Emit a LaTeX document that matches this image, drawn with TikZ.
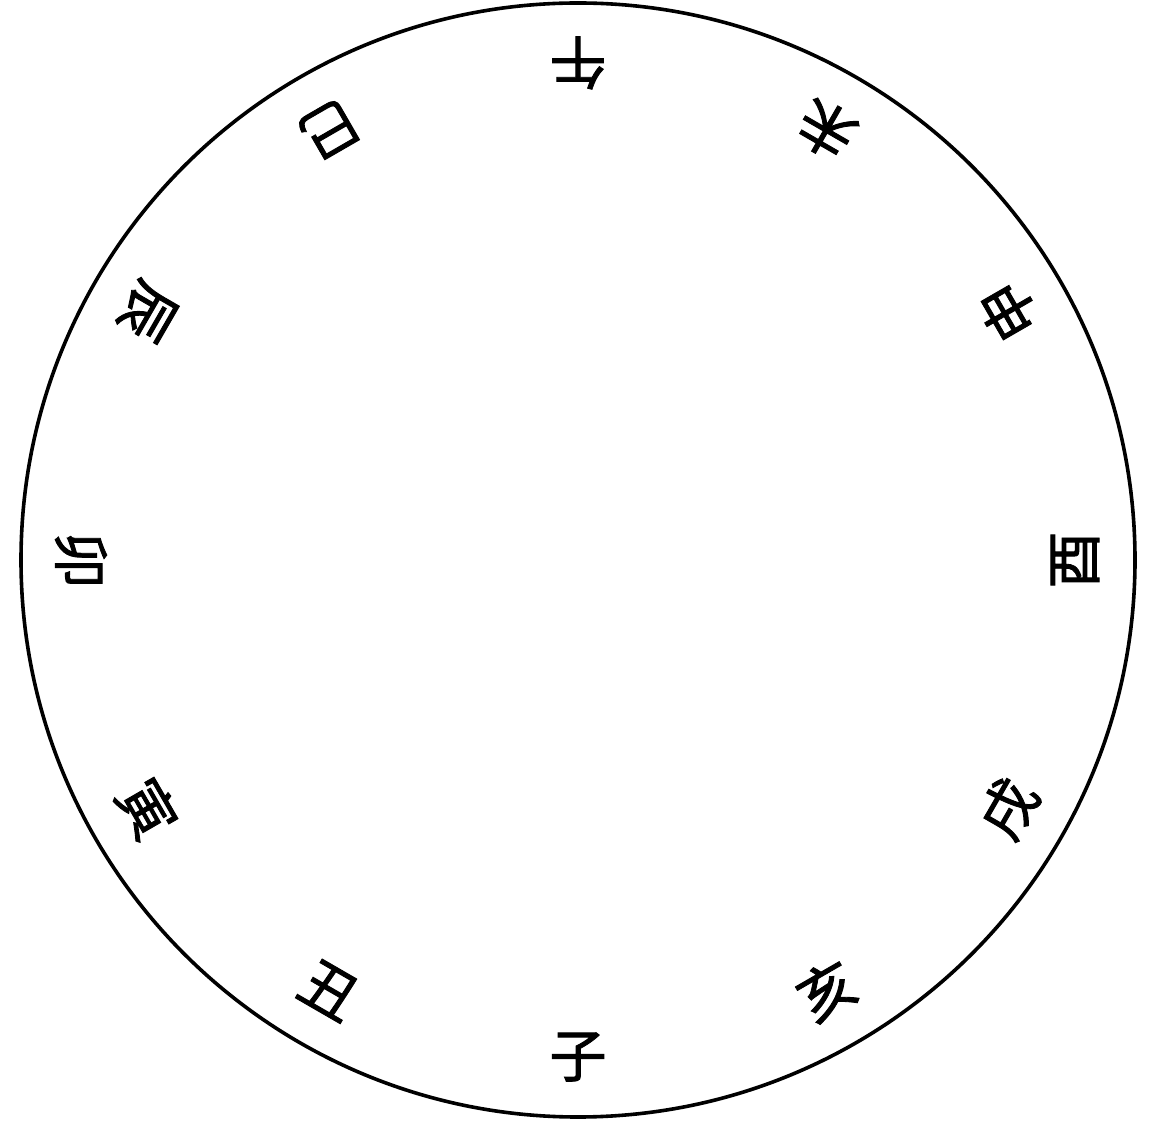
\documentclass[tikz,border=0pt]{standalone}
\usepackage{fontspec}
\newfontfamily\cjk[FakeBold=1.5]{Noto Sans CJK SC}
\begin{document}
\begin{tikzpicture}[x=1pt,y=1pt,
  ring/.style={draw=black,line width=3.6pt},
  branch/.style={font=\cjk\fontsize{57}{57}\selectfont,inner sep=0pt}]
\useasboundingbox (0,0) rectangle (1158,1122);
\coordinate (c) at (578,562);
\node[ring,circle,minimum size=1114pt,inner sep=0pt] (rim) at (c) {};
\foreach \ch/\ang/\nm in {午/90/wu,未/60/wei,申/30/shen,酉/0/you,戌/-30/xu,亥/-60/hai,子/-90/zi,丑/-120/chou,寅/-150/yin,卯/180/mao,辰/150/chen,巳/120/si}{
  \node[branch,rotate=\ang+90] (\nm) at ([shift={(\ang:497)}]c) {\ch};
}
\end{tikzpicture}
\end{document}
